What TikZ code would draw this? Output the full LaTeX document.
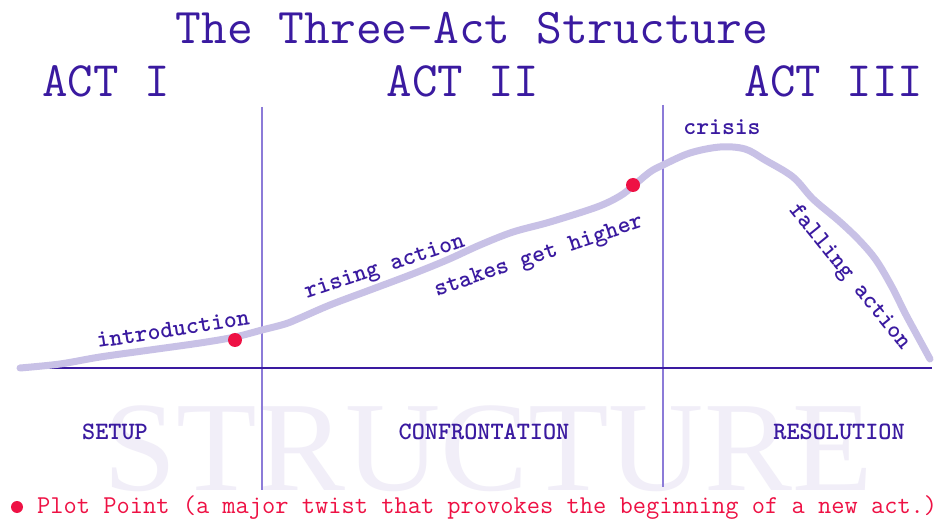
\documentclass[tikz,border=0pt]{standalone}
\usepackage{fontspec}
\setmainfont{Liberation Serif}
\newfontfamily\serifwm{Liberation Serif}
\definecolor{ink}{HTML}{3A1AA0}
\definecolor{curve}{HTML}{C8C1E6}
\definecolor{divider}{HTML}{8C7BD8}
\definecolor{ppred}{HTML}{EE1144}
\definecolor{wm}{HTML}{F1EEF8}
\tikzset{
  title/.style={text=ink,font=\ttfamily\fontsize{50}{50}\selectfont,inner sep=0pt},
  actlabel/.style={text=ink,font=\ttfamily\fontsize{49.5}{49.5}\selectfont,inner sep=0pt},
  curvelabel/.style={text=ink,font=\ttfamily\bfseries\fontsize{24.5}{24.5}\selectfont,inner sep=0pt},
  partlabel/.style={text=ink,font=\ttfamily\bfseries\fontsize{25}{25}\selectfont,inner sep=0pt},
  legend/.style={text=ppred,font=\ttfamily\fontsize{25.7}{25.7}\selectfont,inner sep=0pt,anchor=west},
  divline/.style={draw=divider,line width=1.2pt},
  plotpoint/.style={circle,fill=ppred,inner sep=0pt,minimum size=14pt},
}
\begin{document}
\begin{tikzpicture}[x=1pt,y=-1pt]
\useasboundingbox[fill=white] (0,0) rectangle (938,521);
% watermark
\node[text=wm,font=\serifwm\fontsize{128}{128}\selectfont,inner sep=0pt,anchor=base] (wmk) at (488,490) {\scalebox{1.03}[1]{STRUCTURE}};
% title
\node[title] (ttl) at (472,28) {The Three-Act Structure};
\node[actlabel] (act1) at (106,81) {ACT I};
\node[actlabel] (act2) at (463,81) {ACT II};
\node[actlabel] (act3) at (834,81) {ACT III};
% dividers
\coordinate (d1t) at (262,107); \coordinate (d1b) at (262,490);
\coordinate (d2t) at (663,105); \coordinate (d2b) at (663,487);
\draw[divline] (d1t) -- (d1b);
\draw[divline] (d2t) -- (d2b);
% baseline
\coordinate (bl) at (20,368); \coordinate (br) at (932,368);
\draw[draw=ink,line width=1.6pt] (bl) -- (br);
% curve
\draw[curve,line width=7pt,line cap=round,line join=round] plot[smooth,tension=0.55] coordinates {
(20,368) (60,364) (100,357) (150,350) (200,343) (235,337) (262,330) (285,324) (300,318)
(330,305) (370,290) (410,275) (447,260) (480,245) (513,232) (550,222) (597,207)
(620,196) (633,186) (650,172) (663,165) (690,153) (720,147) (745,149) (765,160)
(793,177) (813,199) (839,221) (859,240) (876,260) (892,287) (905,313) (918,337) (930,359)};
% plot points
\node[plotpoint] (pp1) at (235,340) {};
\node[plotpoint] (pp2) at (633,185) {};
% curve labels
\node[curvelabel,rotate=8.7] (intro) at (173,329) {introduction};
\node[curvelabel,rotate=18.5] (rising) at (385,268) {rising action};
\node[curvelabel,rotate=18.5] (stakes) at (539,257) {stakes get higher};
\node[curvelabel] (crisis) at (722,127) {crisis};
\node[curvelabel,rotate=-51] (falling) at (849,277) {falling action};
% part labels
\node[partlabel] (setup) at (115,432) {SETUP};
\node[partlabel] (confr) at (484,432) {CONFRONTATION};
\node[partlabel] (resol) at (839,432) {RESOLUTION};
% legend
\node[circle,fill=ppred,inner sep=0pt,minimum size=12pt] (legdot) at (17,507) {};
\node[legend] (legtext) at (37,508) {Plot Point (a major twist that provokes the beginning of a new act.)};
\end{tikzpicture}
\end{document}
